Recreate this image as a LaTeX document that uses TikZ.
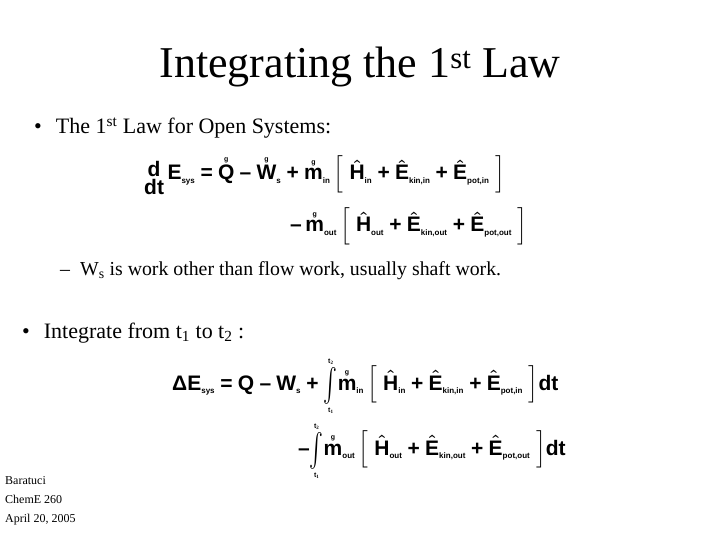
\documentclass[tikz,border=0pt]{standalone}
\usepackage{amsmath}
\usepackage{graphicx}
\usepackage{fontspec}
\setmainfont{Liberation Serif}
\setsansfont{Liberation Sans}
\newcommand{\Bf}[1]{\textsf{\bfseries #1}}
\newcommand{\Sb}[1]{\textsubscript{\footnotesize\sffamily\bfseries #1}}
\newcommand{\gd}[1]{\ensuremath{\overset{\raisebox{-0.3em}{\scriptsize\bfseries\sffamily g}}{\text{\Bf{#1}}}}}
\newcommand{\Hh}[1]{\ensuremath{\boldsymbol{\hat{\text{\Bf{#1}}}}}}
\newcommand{\Br}[1]{\ensuremath{\left[\;\text{#1}\;\right]}}
\newcommand{\Int}{\ensuremath{\mathop{\raisebox{-4pt}{\scalebox{1}[1.6]{$\int$}}}\limits_{\raisebox{7pt}{\scriptsize\Bf{t}\textsubscript{\tiny\bfseries 1}}}^{\raisebox{-5pt}{\scriptsize\Bf{t}\textsubscript{\tiny\bfseries 2}}}}}
\newcommand{\ddt}{\begin{tabular}{@{}c@{}}\Bf{d}\\[-6pt]\Bf{dt}\end{tabular}}
\begin{document}
\begin{tikzpicture}[x=1pt,y=-1pt,
  eq/.style={anchor=base west,inner sep=0pt,font=\fontsize{21}{24}\selectfont},
  txt/.style={anchor=base west,inner sep=0pt}]
\useasboundingbox (0,0) rectangle (720,540);
\node[inner sep=0pt,anchor=base,font=\fontsize{44}{48}\selectfont] (title) at (360,78) {Integrating the 1\textsuperscript{st} Law};
\node[txt,font=\fontsize{22}{26}\selectfont] (b1) at (34,134) {\textbullet\hspace{14pt}The 1\textsuperscript{st} Law for Open Systems:};
\node[eq] (e1) at (144,180) {\raisebox{-0.6ex}{\ddt}\,\Bf{E}\Sb{sys} \Bf{=} \gd{Q} \Bf{–} \gd{W}\Sb{s} \Bf{+} \gd{m}\Sb{in}\,\Br{\Hh{H}\Sb{in} \Bf{+} \Hh{E}\Sb{kin,in} \Bf{+} \Hh{E}\Sb{pot,in}}};
\node[eq] (e2) at (290,232) {\Bf{–}\,\gd{m}\Sb{out}\,\Br{\Hh{H}\Sb{out} \Bf{+} \Hh{E}\Sb{kin,out} \Bf{+} \Hh{E}\Sb{pot,out}}};
\node[txt,font=\fontsize{19.8}{24}\selectfont] (b2) at (60,275) {–\hspace{10pt}W\textsubscript{s} is work other than flow work, usually shaft work.};
\node[txt,font=\fontsize{22}{26}\selectfont] (b3) at (22,338) {\textbullet\hspace{14pt}Integrate from t\textsubscript{1} to t\textsubscript{2} :};
\node[eq] (e3) at (172,390) {\Bf{Δ}\Bf{E}\Sb{sys} \Bf{=} \Bf{Q} \Bf{–} \Bf{W}\Sb{s} \Bf{+} \Int\gd{m}\Sb{in}\,\Br{\Hh{H}\Sb{in} \Bf{+} \Hh{E}\Sb{kin,in} \Bf{+} \Hh{E}\Sb{pot,in}}\Bf{dt}};
\node[eq] (e4) at (298,455) {\Bf{–}\Int\gd{m}\Sb{out}\,\Br{\Hh{H}\Sb{out} \Bf{+} \Hh{E}\Sb{kin,out} \Bf{+} \Hh{E}\Sb{pot,out}}\Bf{dt}};
\node[anchor=north west,inner sep=0pt,align=left,font=\fontsize{12}{19}\selectfont] (foot) at (5,476) {Baratuci\\ChemE 260\\April 20, 2005};
\end{tikzpicture}
\end{document}
